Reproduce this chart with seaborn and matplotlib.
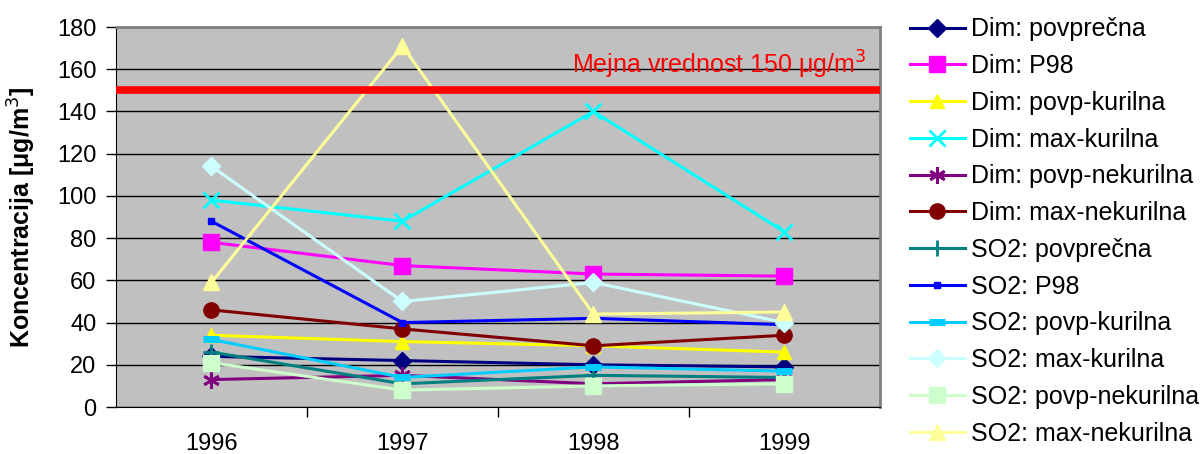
import numpy as np
import pandas as pd
import seaborn as sns
import matplotlib.pyplot as plt
from matplotlib.lines import Line2D

years = ['1996', '1997', '1998', '1999']

series_names = [
    'Dim: povprečna', 'Dim: P98', 'Dim: povp-kurilna', 'Dim: max-kurilna',
    'Dim: povp-nekurilna', 'Dim: max-nekurilna', 'SO2: povprečna', 'SO2: P98',
    'SO2: povp-kurilna', 'SO2: max-kurilna', 'SO2: povp-nekurilna', 'SO2: max-nekurilna',
]

dim_povp = [24, 22, 20, 19]
dim_p98 = [78, 67, 63, 62]
dim_povp_kur = [34, 31, 29, 26]
dim_max_kur = [98, 88, 140, 83]
dim_povp_nekur = [13, 15, 11, 13]
dim_max_nekur = [46, 37, 29, 34]
so2_povp = [26, 11, 15, 14]
so2_p98 = [88, 40, 42, 39]
so2_povp_kur = [32, 14, 19, 17]
so2_max_kur = [114, 50, 59, 40]
so2_povp_nekur = [21, 8, 10, 11]
so2_max_nekur = [59, 171, 44, 45]

values = [dim_povp, dim_p98, dim_povp_kur, dim_max_kur, dim_povp_nekur, dim_max_nekur,
          so2_povp, so2_p98, so2_povp_kur, so2_max_kur, so2_povp_nekur, so2_max_nekur]

limit_value = 150

colors = ['#000080', '#FF00FF', '#FFFF00', '#00FFFF', '#800080', '#800000',
          '#008080', '#0000FF', '#00CCFF', '#CCFFFF', '#CCFFCC', '#FFFF99']
# (marker, size, edge width)
markers = [('D', 9, 1), ('s', 11, 1), ('^', 10, 1), ('x', 11, 2), ((6, 2, 0), 12, 2),
           ('o', 11, 1), ('+', 12, 2), ('s', 5, 1), ('_', 11, 5), ('D', 9, 1),
           ('s', 11, 1), ('^', 11, 1)]

plt.rcParams['font.family'] = ['Liberation Sans', 'DejaVu Sans']

fig = plt.figure(figsize=(12.03, 4.54), dpi=100)
ax = fig.add_axes([0.0964, 0.1035, 0.635, 0.837])
ax.set_facecolor('#C0C0C0')

x_pos = np.arange(len(years))
handles = []
for name, vals, col, (m, ms, mew) in zip(series_names, values, colors, markers):
    df = pd.DataFrame({'x': x_pos, 'y': vals})
    sns.lineplot(data=df, x='x', y='y', ax=ax, color=col, linewidth=2.2,
                 marker=m, markersize=ms, markeredgewidth=mew,
                 markeredgecolor=col, markerfacecolor=col, zorder=3)
    handles.append(Line2D([], [], color=col, linewidth=2.2, marker=m, markersize=ms,
                          markeredgewidth=mew, markeredgecolor=col, markerfacecolor=col))

ax.axhline(limit_value, color='#FF0000', linewidth=5.5, zorder=4)
ax.text(2.66, 158, 'Mejna vrednost 150 $\\mathregular{\\mu}$g/m$^3$',
        color='#FF0000', fontsize=18, ha='center', va='baseline', zorder=5)

ax.set_xlim(-0.5, 3.5)
ax.set_ylim(0, 180)
ax.set_yticks(np.arange(0, 181, 20))
ax.yaxis.grid(True, color='black', linewidth=1)
ax.set_axisbelow(True)

ax.set_xticks(x_pos)
ax.set_xticklabels(years)
ax.set_xticks([0.5, 1.5, 2.5], minor=True)
ax.tick_params(axis='x', which='major', length=0, labelsize=17, pad=19)
ax.tick_params(axis='x', which='minor', length=7, width=1, color='black')
ax.tick_params(axis='y', length=7, width=1, labelsize=17, pad=7)

ax.set_xlabel('')
ax.set_ylabel('Koncentracija [$\\mathregular{\\mu}$g/m$^3$]', fontsize=18, fontweight='bold')
ax.yaxis.set_label_coords(-0.102, 0.5)

for side in ['top', 'right']:
    ax.spines[side].set_color('#808080')
    ax.spines[side].set_linewidth(2)
ax.spines['left'].set_color('black')
ax.spines['bottom'].set_color('black')

fig.legend(handles, series_names, loc='upper left', bbox_to_anchor=(0.748, 0.984),
           frameon=False, fontsize=18, handlelength=2.2, handletextpad=0.25,
           labelspacing=0.51, borderaxespad=0)

fig.savefig('out.png', dpi=100)
